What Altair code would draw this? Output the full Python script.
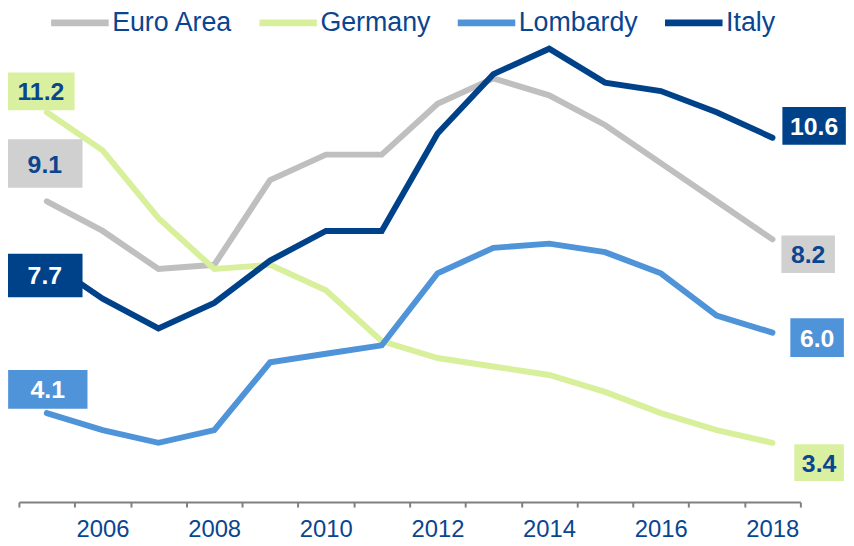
import altair as alt
import pandas as pd

# ---- data ----
years = list(range(2005, 2019))
series = ["Euro Area", "Germany", "Lombardy", "Italy"]
euro_area = [9.1, 8.4, 7.5, 7.6, 9.6, 10.2, 10.2, 11.4, 12.0, 11.6, 10.9, 10.0, 9.1, 8.2]
germany = [11.2, 10.3, 8.7, 7.5, 7.6, 7.0, 5.8, 5.4, 5.2, 5.0, 4.6, 4.1, 3.7, 3.4]
lombardy = [4.1, 3.7, 3.4, 3.7, 5.3, 5.5, 5.7, 7.4, 8.0, 8.1, 7.9, 7.4, 6.4, 6.0]
italy = [7.7, 6.8, 6.1, 6.7, 7.7, 8.4, 8.4, 10.7, 12.1, 12.7, 11.9, 11.7, 11.2, 10.6]
values = {"Euro Area": euro_area, "Germany": germany, "Lombardy": lombardy, "Italy": italy}

# ---- styles ----
line_colors = {"Euro Area": "#bfbfbf", "Germany": "#d8f09c", "Lombardy": "#4f93d9", "Italy": "#00428a"}
box_colors = {"Euro Area": "#d0d0d0", "Germany": "#d9f0a0", "Lombardy": "#4f93d9", "Italy": "#00428a"}
box_text = {"Euro Area": "#0a4590", "Germany": "#0a4590", "Lombardy": "#ffffff", "Italy": "#ffffff"}
TEXT_BLUE = "#0a4590"
FONT = "Liberation Sans"

# label box style: (series, end ['first'|'last'], dx, dy, width, height) in pixels
label_styles = [
    ("Germany", "first", -6, -21, 68, 38),
    ("Euro Area", "first", -2, -38, 76, 49),
    ("Italy", "first", -2, 15, 76, 44),
    ("Lombardy", "first", 1, -24, 80, 39),
    ("Italy", "last", 42, -12, 64, 38),
    ("Euro Area", "last", 36, 15, 54, 38),
    ("Lombardy", "last", 45, 5, 54, 39),
    ("Germany", "last", 47, 20, 50, 37),
]

rows = []
for s in series:
    for y, v in zip(years, values[s]):
        rows.append({"series": s, "year": y, "value": v})
df = pd.DataFrame(rows)

x_scale = alt.Scale(domain=[2004.5, 2018.5], nice=False, zero=False)
y_scale = alt.Scale(domain=[2, 13], nice=False, zero=False)

tick_vals = [y + 0.5 for y in range(2004, 2019)]

lines = alt.Chart(df).mark_line(strokeWidth=6, strokeCap="round").encode(
    x=alt.X("year:Q", scale=x_scale,
            axis=alt.Axis(values=tick_vals, title=None, grid=False,
                          labelExpr="((datum.value + 0.5) % 2 == 0 && datum.value < 2018) ? toString(datum.value + 0.5) : ''",
                          labelOffset=28, labelFlush=False, labelOverlap=False, labelBound=False,
                          tickSize=5, tickWidth=2, tickColor="#808080",
                          domainColor="#808080", domainWidth=2,
                          labelFont=FONT, labelFontSize=24, labelColor=TEXT_BLUE, labelPadding=11)),
    y=alt.Y("value:Q", scale=y_scale, axis=None),
    color=alt.Color("series:N",
                    scale=alt.Scale(domain=series, range=[line_colors[s] for s in series]),
                    sort=series,
                    legend=alt.Legend(title=None, orient="none", direction="horizontal",
                                      legendX=29, legendY=-46, padding=0,
                                      symbolType="stroke", symbolSize=3364, symbolStrokeWidth=7,
                                      labelFont=FONT, labelFontSize=27, labelColor=TEXT_BLUE,
                                      labelOffset=0, columnPadding=12, labelLimit=300)),
    order=alt.Order("year:Q"),
)

layers = [lines]
for s, end, dx, dy, w, h in label_styles:
    idx = 0 if end == "first" else -1
    ldf = pd.DataFrame([{"year": years[idx], "value": values[s][idx],
                         "text": f"{values[s][idx]:.1f}"}])
    base = alt.Chart(ldf)
    box = base.mark_rect(color=box_colors[s],
                         xOffset=dx - w / 2, x2Offset=dx + w / 2,
                         yOffset=dy - h / 2, y2Offset=dy + h / 2).encode(
        x=alt.X("year:Q", scale=x_scale), x2="year:Q",
        y=alt.Y("value:Q", scale=y_scale), y2="value:Q")
    txt = base.mark_text(font=FONT, fontSize=25, fontWeight="bold", color=box_text[s],
                         align="center", baseline="middle", dx=dx, dy=dy + 1).encode(
        x=alt.X("year:Q", scale=x_scale),
        y=alt.Y("value:Q", scale=y_scale),
        text="text:N")
    layers += [box, txt]

chart = alt.layer(*layers).properties(
    width=788, height=470,
    autosize=alt.AutoSizeParams(type="none"),
    padding={"left": 11, "top": 26, "right": 46, "bottom": 40},
).configure_view(stroke=None)

chart.save("out.html", embed_options={"renderer": "svg", "actions": False})
